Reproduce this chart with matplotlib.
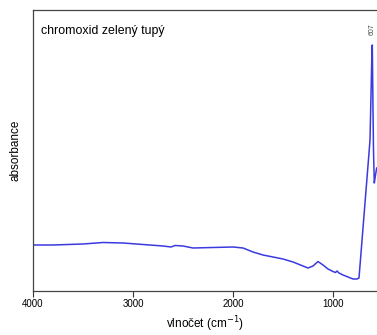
import matplotlib
matplotlib.use("Agg")
import matplotlib.pyplot as plt

wavenumber = [4000, 3800, 3500, 3300, 3100, 2900, 2700, 2620, 2580, 2500, 2400, 2200,
              2000, 1900, 1800, 1700, 1600, 1500, 1400, 1300, 1250, 1200, 1150, 1100,
              1050, 1000, 975, 960, 940, 900, 850, 800, 760, 740, 720, 700, 680, 660,
              640, 630, 620, 610, 607, 600, 595, 587, 575, 563]
absorb = [0.23, 0.23, 0.235, 0.2425, 0.24, 0.2325, 0.225, 0.22, 0.2275, 0.225, 0.215, 0.2175,
          0.22, 0.215, 0.195, 0.18, 0.17, 0.16, 0.145, 0.125, 0.115, 0.125, 0.1475, 0.13,
          0.11, 0.0975, 0.0925, 0.10, 0.09, 0.08, 0.07, 0.06, 0.06, 0.065, 0.19, 0.315,
          0.44, 0.565, 0.69, 0.755, 0.98, 1.21, 1.23, 0.905, 0.705, 0.54, 0.58, 0.615]
xticks = [4000, 3000, 2000, 1000]
title = "chromoxid zelený tupý"
peak_label = "607"

plt.rcParams['font.family'] = ['Liberation Sans', 'DejaVu Sans']
fig = plt.figure(figsize=(3.77, 3.35), dpi=100)
ax = fig.add_axes([33/377, 1-291/335, 1-33/377, (291-10)/335])
ax.plot(wavenumber, absorb, color='#3a3ae0', lw=1.1)
ax.set_xlim(4000, 560)
ax.set_ylim(0, 1.405)
ax.set_xticks(xticks)
ax.set_xticklabels([str(t) for t in xticks], fontsize=7)
ax.set_yticks([])
ax.tick_params(axis='x', direction='out', length=4, width=0.8, color='#333333', pad=2)
for s in ['left', 'bottom', 'top']:
    ax.spines[s].set_color('#444444')
    ax.spines[s].set_linewidth(0.9)
ax.spines['right'].set_visible(False)
ax.set_xlabel("vlnočet (cm$^{-1}$)", fontsize=8.5, labelpad=4)
ax.set_ylabel("absorbance", fontsize=8.5, labelpad=8)
ax.text(0.022, 0.945, title, transform=ax.transAxes, fontsize=8.9, va='top', ha='left')
ax.text(607, 1.31, peak_label, rotation=90, fontsize=5, ha='center', va='center', color='#444444')
fig.savefig("out.png", dpi=100)
